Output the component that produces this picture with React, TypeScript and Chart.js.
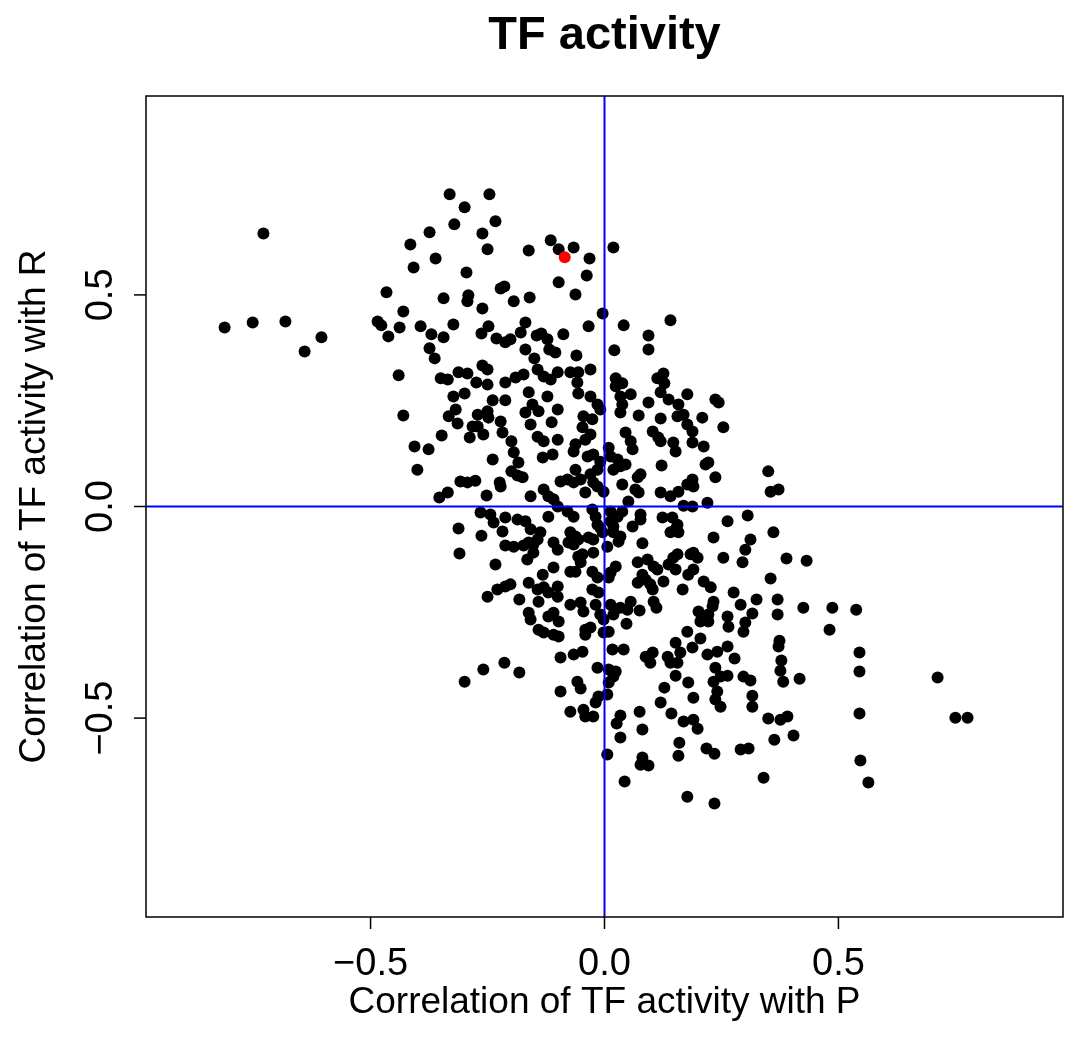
import React, { useEffect, useRef } from "react";
import { Chart, registerables } from "chart.js";
Chart.register(...registerables);

// [correlation with P, correlation with R]
const outlierPoints: [number, number][] = [
  [-0.729, 0.645], [-0.812, 0.423], [-0.752, 0.435], [-0.682, 0.437], [-0.605, 0.400], [-0.641, 0.366],
  [-0.466, 0.506], [-0.485, 0.437], [-0.477, 0.428], [-0.462, 0.402],
];
const upperLeftPoints: [number, number][] = [
  [-0.331, 0.738], [-0.246, 0.738], [-0.299, 0.707], [-0.321, 0.667], [-0.233, 0.674], [-0.374, 0.648],
  [-0.261, 0.645], [-0.415, 0.619], [-0.361, 0.586], [-0.250, 0.608], [-0.162, 0.605], [-0.115, 0.629],
  [-0.098, 0.608], [-0.408, 0.565], [-0.295, 0.553], [-0.222, 0.515], [-0.214, 0.520], [-0.344, 0.492],
  [-0.291, 0.499], [-0.293, 0.485], [-0.261, 0.468], [-0.194, 0.485], [-0.160, 0.494], [-0.098, 0.530],
  [-0.430, 0.461], [-0.438, 0.423], [-0.393, 0.426], [-0.370, 0.407], [-0.344, 0.400], [-0.323, 0.430],
  [-0.374, 0.374], [-0.363, 0.350], [-0.263, 0.409], [-0.248, 0.426], [-0.231, 0.397], [-0.212, 0.388],
  [-0.201, 0.395], [-0.179, 0.411], [-0.169, 0.435], [-0.145, 0.404], [-0.135, 0.409], [-0.122, 0.395],
  [-0.169, 0.371], [-0.150, 0.350], [-0.118, 0.371], [-0.105, 0.364], [-0.440, 0.310], [-0.350, 0.303],
  [-0.335, 0.300], [-0.312, 0.317], [-0.293, 0.314], [-0.261, 0.333], [-0.250, 0.324], [-0.274, 0.293],
  [-0.250, 0.288], [-0.212, 0.293], [-0.190, 0.305], [-0.173, 0.312], [-0.143, 0.324], [-0.130, 0.307],
  [-0.115, 0.300], [-0.100, 0.317],
];
const upperMiddlePoints: [number, number][] = [
  [-0.066, 0.612], [-0.032, 0.586], [0.019, 0.612], [-0.038, 0.546], [-0.062, 0.501], [-0.004, 0.456],
  [-0.034, 0.426], [0.041, 0.428], [0.141, 0.440], [0.094, 0.404], [-0.088, 0.407], [-0.060, 0.357],
  [0.021, 0.369], [0.094, 0.371], [-0.073, 0.317], [-0.056, 0.317], [-0.030, 0.324], [-0.058, 0.293],
  [0.024, 0.303], [0.038, 0.291], [0.024, 0.284], [0.113, 0.303], [0.126, 0.314], [0.128, 0.291],
];
const centerLeftPoints: [number, number][] = [
  [-0.430, 0.215], [-0.406, 0.142], [-0.376, 0.135], [-0.400, 0.087], [-0.348, 0.168], [-0.323, 0.260],
  [-0.299, 0.267], [-0.333, 0.213], [-0.318, 0.229], [-0.314, 0.196], [-0.288, 0.163], [-0.282, 0.189],
  [-0.271, 0.189], [-0.259, 0.170], [-0.271, 0.217], [-0.250, 0.225], [-0.248, 0.210], [-0.239, 0.251],
  [-0.212, 0.251], [-0.222, 0.201], [-0.218, 0.175], [-0.199, 0.154], [-0.194, 0.128], [-0.239, 0.111],
  [-0.184, 0.104], [-0.199, 0.083], [-0.186, 0.073], [-0.175, 0.069], [-0.308, 0.059], [-0.293, 0.057],
  [-0.276, 0.061], [-0.224, 0.057], [-0.222, 0.047], [-0.252, 0.026], [-0.158, 0.024], [-0.353, 0.021],
  [-0.335, 0.033], [-0.158, 0.194], [-0.143, 0.165], [-0.130, 0.154], [-0.132, 0.116], [-0.111, 0.123],
  [-0.113, 0.199], [-0.100, 0.158], [-0.169, 0.222], [-0.154, 0.241], [-0.141, 0.225], [-0.162, 0.270],
  [-0.122, 0.260], [-0.100, 0.229], [-0.130, 0.040], [-0.120, 0.024], [-0.109, 0.017], [-0.100, 0.000],
  [-0.120, -0.024], [-0.265, -0.014], [-0.244, -0.019], [-0.237, -0.038], [-0.212, -0.026], [-0.186, -0.031],
  [-0.169, -0.035], [-0.158, -0.054], [-0.312, -0.052], [-0.263, -0.069], [-0.218, -0.059], [-0.137, -0.061],
  [-0.143, -0.078], [-0.152, -0.090], [-0.162, -0.085], [-0.173, -0.092], [-0.212, -0.092], [-0.194, -0.095],
  [-0.109, -0.085], [-0.100, -0.102], [-0.310, -0.111], [-0.152, -0.109], [-0.165, -0.125], [-0.233, -0.137],
  [-0.109, -0.144], [-0.132, -0.161], [-0.162, -0.180], [-0.229, -0.196], [-0.212, -0.189], [-0.201, -0.184],
  [-0.250, -0.213], [-0.143, -0.196], [-0.130, -0.191], [-0.120, -0.203], [-0.100, -0.189], [-0.100, -0.213],
];
const lowerLeftPoints: [number, number][] = [
  [-0.182, -0.220], [-0.141, -0.225], [-0.162, -0.251], [-0.158, -0.267], [-0.120, -0.260], [-0.109, -0.251],
  [-0.098, -0.272], [-0.141, -0.291], [-0.130, -0.298], [-0.109, -0.303], [-0.098, -0.307], [-0.299, -0.414],
  [-0.259, -0.385], [-0.214, -0.369], [-0.182, -0.392], [-0.094, -0.357], [-0.094, -0.437],
];
const lowerMiddlePoints: [number, number][] = [
  [-0.073, -0.232], [-0.051, -0.227], [-0.019, -0.232], [-0.045, -0.248], [0.013, -0.232], [0.034, -0.239],
  [0.049, -0.244], [0.056, -0.225], [0.075, -0.246], [0.111, -0.239], [0.105, -0.225], [-0.009, -0.255],
  [-0.002, -0.267], [0.019, -0.255], [0.047, -0.277], [-0.041, -0.291], [-0.030, -0.286], [-0.041, -0.303],
  [-0.002, -0.298], [0.009, -0.296], [0.177, -0.296], [0.205, -0.312], [0.201, -0.248], [0.222, -0.255],
  [0.231, -0.236], [0.233, -0.225], [0.205, -0.272], [0.222, -0.272], [0.263, -0.260], [0.265, -0.284],
  [0.017, -0.338], [0.041, -0.338], [-0.047, -0.343], [-0.066, -0.350], [-0.015, -0.381], [0.009, -0.385],
  [0.024, -0.390], [0.019, -0.402], [0.009, -0.416], [0.088, -0.355], [0.103, -0.345], [0.098, -0.369],
  [0.135, -0.355], [0.141, -0.369], [0.152, -0.322], [0.162, -0.345], [0.156, -0.369], [0.188, -0.333],
  [0.220, -0.350], [0.241, -0.343], [0.263, -0.331], [0.152, -0.400], [0.179, -0.416], [0.128, -0.428],
  [0.190, -0.452], [0.120, -0.463], [0.143, -0.489], [0.169, -0.508], [0.190, -0.504], [0.199, -0.525],
  [0.237, -0.381], [0.233, -0.414], [0.248, -0.402], [0.263, -0.400], [0.241, -0.437], [0.237, -0.456],
  [0.248, -0.473], [-0.058, -0.414], [-0.051, -0.430], [0.006, -0.444], [-0.013, -0.449], [-0.019, -0.463],
  [-0.073, -0.485], [-0.045, -0.480], [-0.041, -0.496], [-0.024, -0.496], [0.034, -0.494], [0.026, -0.513],
  [0.075, -0.485], [0.081, -0.527], [0.034, -0.546], [0.160, -0.558], [0.158, -0.589], [0.218, -0.572],
  [0.235, -0.584], [0.006, -0.586], [0.081, -0.593], [0.077, -0.610], [0.094, -0.612], [0.043, -0.650],
  [0.177, -0.686], [0.235, -0.702],
];
const rightPoints: [number, number][] = [
  [0.350, 0.083], [0.355, 0.035], [0.372, 0.040], [0.306, -0.021], [0.361, -0.061], [0.312, -0.078],
  [0.301, -0.102], [0.295, -0.132], [0.389, -0.123], [0.432, -0.128], [0.355, -0.170], [0.276, -0.203],
  [0.325, -0.220], [0.370, -0.220], [0.291, -0.232], [0.425, -0.239], [0.487, -0.239], [0.538, -0.244],
  [0.370, -0.255], [0.316, -0.253], [0.301, -0.274], [0.297, -0.296], [0.481, -0.291], [0.374, -0.317],
  [0.372, -0.331], [0.545, -0.345], [0.278, -0.359], [0.378, -0.364], [0.376, -0.388], [0.382, -0.414],
  [0.417, -0.407], [0.545, -0.390], [0.297, -0.402], [0.312, -0.411], [0.316, -0.447], [0.316, -0.473],
  [0.712, -0.404], [0.350, -0.501], [0.376, -0.504], [0.391, -0.496], [0.545, -0.489], [0.750, -0.499],
  [0.776, -0.499], [0.363, -0.551], [0.404, -0.541], [0.291, -0.574], [0.308, -0.572], [0.547, -0.600],
  [0.340, -0.641], [0.564, -0.652],
];
const centerPoints: [number, number][] = [
  [-0.056, 0.267], [-0.030, 0.260], [-0.015, 0.241], [-0.045, 0.213], [-0.026, 0.206], [-0.009, 0.229],
  [0.034, 0.260], [0.056, 0.265], [0.038, 0.241], [0.034, 0.222], [0.094, 0.246], [0.073, 0.215],
  [0.120, 0.270], [0.137, 0.253], [0.158, 0.241], [0.156, 0.213], [0.169, 0.217], [0.177, 0.265],
  [0.120, 0.208], [0.209, 0.210], [0.237, 0.253], [0.244, 0.246], [0.254, 0.187], [0.177, 0.194],
  [0.188, 0.177], [-0.047, 0.187], [-0.030, 0.170], [-0.062, 0.147], [-0.066, 0.130], [-0.041, 0.158],
  [0.045, 0.175], [0.056, 0.154], [0.060, 0.135], [0.103, 0.177], [0.115, 0.163], [0.120, 0.154],
  [0.147, 0.151], [0.152, 0.130], [0.188, 0.151], [0.212, 0.142], [-0.036, 0.118], [-0.024, 0.123],
  [-0.009, 0.106], [-0.015, 0.087], [0.009, 0.139], [0.013, 0.118], [0.028, 0.111], [0.034, 0.095],
  [0.045, 0.099], [0.019, 0.087], [-0.062, 0.087], [-0.094, 0.059], [-0.079, 0.064], [-0.066, 0.057],
  [-0.051, 0.064], [-0.030, 0.076], [-0.024, 0.057], [-0.015, 0.047], [-0.041, 0.033], [0.077, 0.076],
  [0.071, 0.069], [0.038, 0.052], [0.066, 0.040], [0.073, 0.033], [0.122, 0.097], [0.216, 0.099],
  [0.222, 0.104], [0.237, 0.069], [0.188, 0.064], [0.190, 0.047], [0.177, 0.052], [0.120, 0.033],
  [0.141, 0.024], [0.158, 0.035], [-0.002, 0.035], [0.051, 0.012], [0.220, 0.009], [0.169, 0.002],
  [0.188, 0.000], [-0.079, -0.012], [-0.066, -0.024], [-0.026, -0.007], [-0.019, -0.024], [0.013, -0.012],
  [0.028, -0.024], [0.038, -0.012], [0.077, -0.019], [0.077, -0.031], [0.013, -0.035], [0.019, -0.047],
  [-0.015, -0.043], [-0.009, -0.050], [-0.004, -0.061], [0.060, -0.047], [0.124, -0.026], [0.145, -0.026],
  [0.156, -0.043], [0.152, -0.054], [0.141, -0.061], [0.158, -0.061], [0.263, -0.035], [-0.073, -0.061],
  [-0.062, -0.071], [-0.056, -0.078], [-0.077, -0.085], [-0.066, -0.090], [-0.034, -0.073], [-0.024, -0.078],
  [0.019, -0.061], [0.034, -0.071], [0.030, -0.083], [0.006, -0.095], [0.081, -0.087], [0.233, -0.073],
  [-0.056, -0.118], [-0.047, -0.113], [-0.051, -0.132], [-0.024, -0.109], [0.156, -0.113], [0.147, -0.121],
  [0.184, -0.113], [0.190, -0.109], [0.199, -0.121], [0.254, -0.121], [0.071, -0.132], [0.092, -0.125],
  [0.137, -0.137], [0.152, -0.149], [-0.073, -0.154], [-0.062, -0.154], [-0.026, -0.154], [-0.015, -0.168],
  [0.024, -0.142], [0.013, -0.156], [0.009, -0.168], [0.105, -0.142], [0.113, -0.149], [0.081, -0.161],
  [0.088, -0.173], [0.179, -0.161], [0.190, -0.149], [0.071, -0.180], [0.098, -0.184], [0.103, -0.196],
  [0.126, -0.177], [-0.026, -0.196], [-0.013, -0.203], [0.212, -0.177], [0.227, -0.191], [0.167, -0.196],
];
const highlightPoints: [number, number][] = [[-0.085, 0.589]];

const xTicks = [-0.5, 0, 0.5];
const yTicks = [-0.5, 0, 0.5];
const xLimits = [-0.98, 0.98];
const yLimits = [-0.97, 0.97];
const titleText = "TF activity";
const xLabel = "Correlation of TF activity with P";
const yLabel = "Correlation of TF activity with R";

const FONT = '"Liberation Sans", Arial, Helvetica, sans-serif';
const fmt = (v: number) => (v < 0 ? "\u2212" : "") + Math.abs(v).toFixed(1);
const toXY = (arr: [number, number][]) => arr.map(([x, y]) => ({ x, y }));

const decor = {
  id: "decor",
  afterDraw(chart: any) {
    const { ctx, chartArea: a, scales } = chart;
    const xs = scales.x;
    const ys = scales.y;
    ctx.save();
    ctx.strokeStyle = "#000";
    ctx.lineWidth = 1.5;
    ctx.strokeRect(a.left, a.top, a.right - a.left, a.bottom - a.top);
    ctx.fillStyle = "#000";
    ctx.font = `38px ${FONT}`;
    ctx.textAlign = "center";
    ctx.textBaseline = "alphabetic";
    const tick = 12;
    xTicks.forEach((v) => {
      const px = xs.getPixelForValue(v);
      ctx.beginPath();
      ctx.moveTo(px, a.bottom);
      ctx.lineTo(px, a.bottom + tick);
      ctx.stroke();
      ctx.fillText(fmt(v), px, 975);
    });
    yTicks.forEach((v) => {
      const py = ys.getPixelForValue(v);
      ctx.beginPath();
      ctx.moveTo(a.left, py);
      ctx.lineTo(a.left - tick, py);
      ctx.stroke();
      ctx.save();
      ctx.translate(112, py);
      ctx.rotate(-Math.PI / 2);
      ctx.fillText(fmt(v), 0, 0);
      ctx.restore();
    });
    ctx.font = `37px ${FONT}`;
    ctx.fillText(xLabel, (a.left + a.right) / 2, 1013);
    ctx.save();
    ctx.translate(45, (a.top + a.bottom) / 2);
    ctx.rotate(-Math.PI / 2);
    ctx.fillText(yLabel, 0, 0);
    ctx.restore();
    ctx.font = `bold 47px ${FONT}`;
    ctx.fillText(titleText, (a.left + a.right) / 2, 49);
    ctx.restore();
  },
};

export default function App() {
  const ref = useRef<HTMLCanvasElement>(null);
  useEffect(() => {
    if (!ref.current) return;
    const black = [
      ...outlierPoints, ...upperLeftPoints, ...upperMiddlePoints, ...centerLeftPoints,
      ...lowerLeftPoints, ...lowerMiddlePoints, ...rightPoints, ...centerPoints,
    ];
    const chart = new Chart(ref.current, {
      type: "scatter",
      data: {
        datasets: [
          {
            type: "line",
            data: [{ x: xLimits[0], y: 0 }, { x: xLimits[1], y: 0 }],
            borderColor: "#0000ff",
            borderWidth: 2,
            pointRadius: 0,
            order: 0,
          } as any,
          {
            type: "line",
            data: [{ x: 0, y: yLimits[0] }, { x: 0, y: yLimits[1] }],
            borderColor: "#0000ff",
            borderWidth: 2,
            pointRadius: 0,
            order: 0,
          } as any,
          {
            data: toXY(highlightPoints),
            backgroundColor: "#ff0000",
            pointRadius: 6,
            borderWidth: 0,
            order: 1,
          },
          {
            data: toXY(black),
            backgroundColor: "#000000",
            pointRadius: 6,
            borderWidth: 0,
            order: 2,
          },
        ],
      },
      options: {
        responsive: false,
        animation: false,
        events: [],
        layout: { autoPadding: false, padding: { left: 146, top: 96, right: 2, bottom: 131 } },
        plugins: { legend: { display: false }, tooltip: { enabled: false } },
        scales: {
          x: { type: "linear", min: xLimits[0], max: xLimits[1], display: false },
          y: { type: "linear", min: yLimits[0], max: yLimits[1], display: false },
        },
      },
      plugins: [decor],
    });
    return () => chart.destroy();
  }, []);
  return (
    <div style={{ position: "absolute", left: 0, top: 0, width: 1065, height: 1048, background: "#fff" }}>
      <canvas ref={ref} width={1065} height={1048} />
    </div>
  );
}
